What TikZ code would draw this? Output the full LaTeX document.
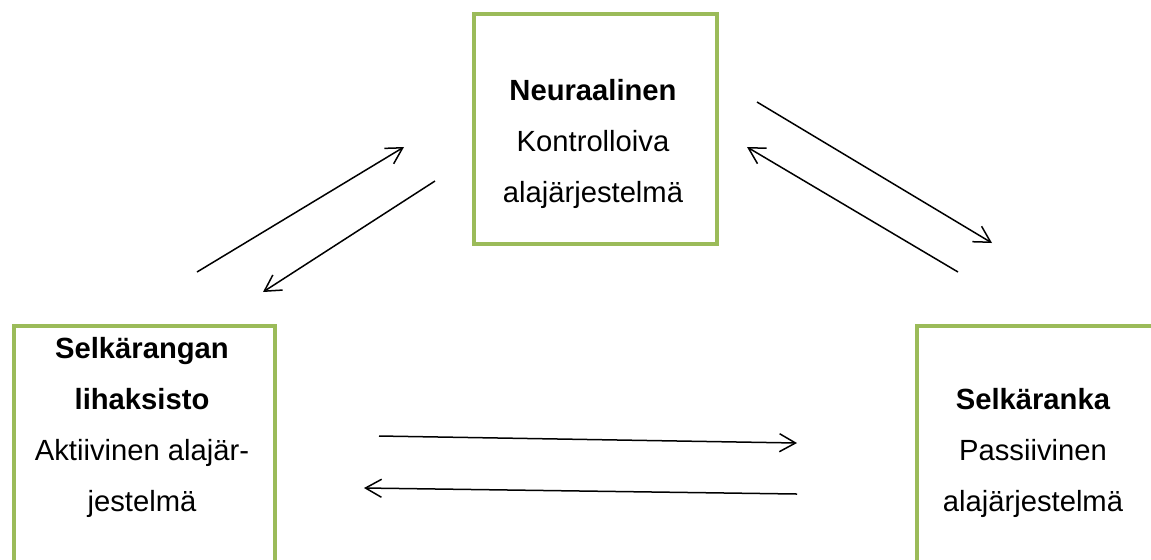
\documentclass[tikz,border=0pt]{standalone}
\usepackage{fontspec}
\setmainfont{Liberation Sans}
\usetikzlibrary{arrows.meta}

\definecolor{leafgreen}{HTML}{9BBB59}

\begin{document}
\begin{tikzpicture}[x=0.5pt,y=-0.5pt,>={Straight Barb[length=8pt,width=9pt]}]

    % --- Page frame ---
    \clip (0,0) rectangle (1151,559);
    \fill[white] (0,0) rectangle (1151,559);

    \tikzset{
        sysbox/.style={draw=leafgreen, line width=2pt, minimum width=#1, anchor=north west, inner sep=0pt},
        systext/.style={align=center, anchor=base, font=\fontsize{14.6}{25.5}\selectfont},
        link/.style={->, line width=0.75pt, black}
    }

    % --- Arrow end points ---
    \coordinate (muscUp) at (197,272);
    \coordinate (neuroUp) at (404,147);
    \coordinate (neuroDown) at (435,181);
    \coordinate (muscDown) at (263,292);
    \coordinate (neuroOut) at (757,102);
    \coordinate (spineIn) at (992,243);
    \coordinate (spineOut) at (958,272);
    \coordinate (neuroIn) at (747,147);
    \coordinate (muscRight) at (379,436);
    \coordinate (spineLeft) at (797,443);
    \coordinate (spineBack) at (797,494);
    \coordinate (muscBack) at (364,488);

    % --- Boxes ---
    \node[sysbox=121.5pt, minimum height=115pt] (neuro) at (472,12) {};
    \node[sysbox=130.5pt, minimum height=148pt] (lihas) at (12,324) {};
    \node[sysbox=122.5pt, minimum height=148pt] (ranka) at (915,324) {};

    % --- Box texts (anchored at last baseline) ---
    \node[systext] (neuroText) at (593,202)
        {\textbf{Neuraalinen}\\Kontrolloiva\\alajärjestelmä};
    \node[systext] (lihasText) at (142,511)
        {\textbf{Selkärangan}\\\textbf{lihaksisto}\\Aktiivinen alajär-\\jestelmä};
    \node[systext] (rankaText) at (1033,511)
        {\textbf{Selkäranka}\\Passiivinen\\alajärjestelmä};

    % --- Connectors ---
    \draw[link] (muscUp) -- (neuroUp);
    \draw[link] (neuroDown) -- (muscDown);
    \draw[link] (neuroOut) -- (spineIn);
    \draw[link] (spineOut) -- (neuroIn);
    \draw[link] (muscRight) -- (spineLeft);
    \draw[link] (spineBack) -- (muscBack);

\end{tikzpicture}
\end{document}
